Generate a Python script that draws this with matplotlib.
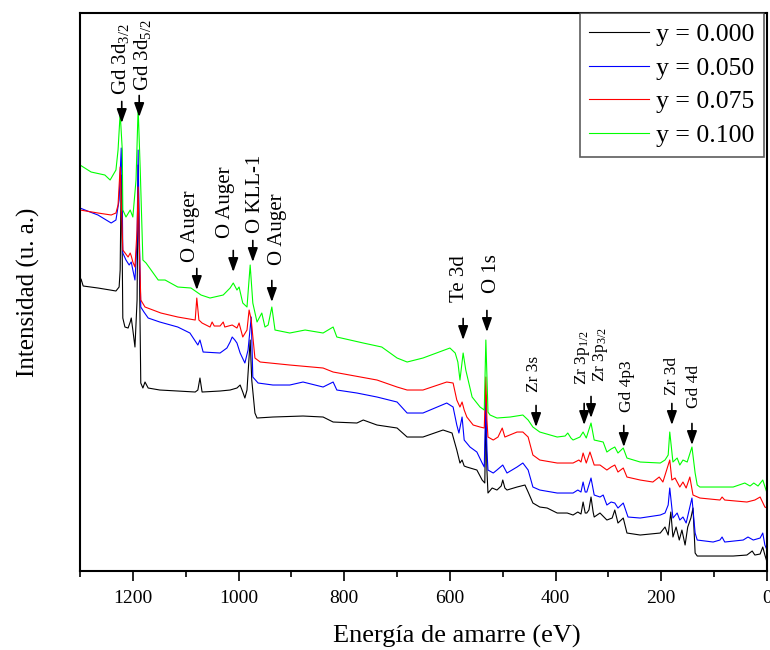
import matplotlib
matplotlib.use('Agg')
import matplotlib.pyplot as plt
from matplotlib.ticker import MultipleLocator

plt.rcParams['font.family'] = ['Liberation Serif', 'DejaVu Serif']
plt.rcParams['mathtext.fontset'] = 'custom'
plt.rcParams['mathtext.rm'] = 'Liberation Serif'
plt.rcParams['mathtext.it'] = 'Liberation Serif:italic'

# survey spectra, binding energy (eV) vs intensity (arb. units)
energy_000 = [1300, 1298, 1294, 1266, 1243, 1232, 1226, 1224, 1222, 1220, 1219, 1215, 1209, 1205, 1203, 1200,
              1196, 1192, 1190, 1188, 1185, 1181, 1177, 1171, 1149, 1115, 1082, 1077, 1073, 1069, 1035, 1016,
              1003, 997, 992, 988, 984, 978, 975, 969, 965, 935, 878, 840, 821, 776, 764, 738, 700, 681, 651,
              613, 596, 587, 581, 577, 573, 568, 549, 539, 534, 532, 530, 528, 520, 511, 503, 500, 496, 492,
              473, 458, 452, 443, 430, 416, 397, 378, 367, 358, 352, 348, 344, 341, 337, 333, 329, 327, 316,
              303, 293, 288, 282, 276, 272, 265, 240, 202, 193, 187, 182, 178, 172, 166, 161, 155, 150, 144,
              140, 136, 132, 64, 38, 28, 23, 13, 8, 4, 0]
intensity_000 = [287, 292, 285, 283, 281, 280, 284, 301, 396, 311, 253, 244, 243, 249, 253, 241,
                 224, 271, 406, 321, 188, 183, 189, 183, 181, 180, 179, 181, 193, 179, 180, 181,
                 183, 186, 179, 173, 181, 231, 191, 158, 153, 154, 155, 154, 149, 148, 151, 146, 143, 134, 134,
                 141, 138, 121, 108, 111, 105, 104, 101, 91, 88, 161, 101, 78, 83, 81, 85, 91, 83, 81,
                 84, 86, 79, 68, 64, 63, 58, 58, 56, 59, 57, 69, 58, 58, 61, 74, 59, 54, 58,
                 51, 53, 61, 48, 51, 53, 38, 36, 38, 44, 36, 59, 34, 44, 31, 41, 26, 44, 53,
                 63, 18, 15, 15, 16, 20, 16, 17, 24, 16, 9]

energy_050 = [1300, 1281, 1266, 1241, 1232, 1226, 1222, 1220, 1219, 1213, 1207, 1203, 1200, 1196, 1192, 1190,
              1188, 1185, 1179, 1171, 1149, 1115, 1092, 1077, 1073, 1067, 1035, 1022, 1016, 1012, 1007, 1003,
              997, 988, 982, 976, 973, 963, 935, 903, 878, 840, 821, 814, 776, 738, 700, 681, 651, 606, 594,
              587, 583, 577, 573, 562, 549, 539, 535, 532, 530, 528, 518, 511, 500, 492, 473, 462, 452, 443,
              430, 397, 367, 358, 352, 348, 344, 341, 333, 327, 316, 310, 303, 295, 288, 282, 276, 272, 263,
              240, 202, 193, 187, 184, 178, 170, 165, 159, 153, 146, 142, 136, 132, 102, 89, 85, 80, 45, 36,
              26, 13, 8, 4, 0]
intensity_050 = [363, 359, 356, 348, 351, 371, 423, 371, 318, 311, 306, 309, 301, 291, 331, 421,
                 341, 264, 259, 253, 249, 244, 238, 226, 231, 219, 218, 223, 229, 234, 231, 228,
                 218, 208, 221, 254, 194, 188, 186, 186, 189, 184, 189, 181, 178, 174, 169, 158, 158, 168, 164,
                 146, 138, 154, 131, 124, 119, 108, 104, 176, 121, 101, 98, 101, 106, 98, 104, 108, 101, 84,
                 81, 78, 78, 81, 79, 89, 79, 79, 93, 76, 74, 76, 66, 69, 68, 63, 66, 68, 54,
                 53, 56, 58, 66, 83, 53, 58, 51, 54, 48, 64, 73, 38, 31, 29, 31, 34, 29, 31, 34,
                 31, 33, 38, 26, 21]

energy_075 = [1300, 1266, 1241, 1232, 1228, 1224, 1222, 1219, 1209, 1205, 1203, 1200, 1196, 1192, 1190, 1188,
              1185, 1177, 1147, 1115, 1082, 1079, 1075, 1069, 1054, 1050, 1046, 1035, 1029, 1026, 1012, 1003,
              999, 992, 984, 980, 976, 969, 959, 903, 840, 821, 738, 700, 681, 651, 606, 594, 587, 581, 577,
              573, 568, 556, 543, 535, 532, 530, 528, 518, 509, 501, 496, 473, 462, 452, 443, 430, 397, 367,
              356, 352, 348, 342, 335, 327, 316, 303, 295, 288, 282, 272, 265, 240, 216, 204, 197, 184, 180,
              174, 165, 159, 153, 146, 140, 127, 89, 85, 80, 38, 23, 13, 4, 0]
intensity_075 = [361, 358, 356, 358, 366, 404, 371, 321, 314, 318, 315, 309, 304, 341, 384, 331,
                 271, 264, 258, 254, 251, 273, 251, 248, 244, 249, 245, 245, 249, 244, 246, 243,
                 248, 234, 241, 261, 251, 213, 209, 206, 203, 199, 191, 184, 181, 181, 189, 188, 171, 164, 169,
                 161, 154, 146, 144, 143, 194, 151, 134, 131, 134, 143, 134, 139, 139, 134, 116, 111, 108, 108,
                 111, 109, 118, 108, 119, 106, 106, 101, 104, 106, 99, 103, 94, 91, 89, 94, 89, 111, 91,
                 93, 84, 89, 83, 94, 76, 73, 71, 74, 71, 69, 71, 74, 64, 63]

energy_100 = [1300, 1279, 1253, 1243, 1232, 1228, 1224, 1220, 1219, 1213, 1205, 1200, 1194, 1190, 1186, 1181,
              1175, 1152, 1139, 1115, 1090, 1071, 1054, 1029, 1016, 1010, 1005, 1003, 999, 992, 984, 978,
              973, 965, 956, 950, 944, 937, 931, 903, 874, 840, 821, 814, 764, 729, 700, 681, 651, 600, 590,
              585, 581, 575, 570, 558, 543, 535, 532, 528, 524, 511, 486, 462, 452, 443, 430, 397, 382, 377,
              371, 367, 354, 348, 342, 333, 327, 310, 303, 295, 288, 282, 272, 265, 240, 202, 193, 187, 184,
              178, 170, 165, 159, 151, 142, 136, 132, 127, 64, 42, 32, 25, 17, 8, 0]
intensity_100 = [406, 399, 396, 391, 401, 421, 458, 421, 361, 354, 361, 354, 391, 463, 401, 311,
                 308, 291, 291, 284, 283, 276, 273, 276, 283, 288, 283, 281, 284, 268, 264, 306,
                 268, 249, 258, 244, 246, 264, 241, 238, 241, 238, 244, 234, 228, 224, 213, 209, 213, 223, 218,
                 209, 191, 218, 201, 174, 164, 161, 231, 159, 156, 153, 154, 156, 151, 144, 139, 134, 135, 138,
                 133, 131, 134, 139, 133, 148, 131, 129, 119, 122, 124, 118, 123, 113, 109, 108, 111, 116, 139,
                 109, 113, 106, 111, 109, 124, 98, 86, 84, 84, 88, 85, 88, 85, 91, 78]

series_labels = ['y = 0.000', 'y = 0.050', 'y = 0.075', 'y = 0.100']

# peak assignments: name, arrow energy, arrow tip height
peak_names = [r'Gd 3d$_{\mathrm{3/2}}$', r'Gd 3d$_{\mathrm{5/2}}$', 'O Auger', 'O Auger', 'O KLL-1', 'O Auger',
              'Te 3d', 'O 1s', 'Zr 3s', r'Zr 3p$_{\mathrm{1/2}}$', r'Zr 3p$_{\mathrm{3/2}}$', 'Gd 4p3',
              'Zr 3d', 'Gd 4d']
peak_energies = [1221, 1188, 1079, 1010, 973, 937, 575, 530, 437, 346, 333, 271, 180, 142]
peak_tips = [448, 454, 281, 299, 309, 269, 231, 239, 144, 146, 153, 124, 146, 126]


def main():
    fig = plt.figure(figsize=(7.7, 6.5), dpi=100)
    ax = fig.add_axes([0.1039, 0.1215, 0.8922, 0.8585])

    colors = ['#000000', '#0000ff', '#ff0000', '#00ff00']
    data = [(energy_000, intensity_000), (energy_050, intensity_050),
            (energy_075, intensity_075), (energy_100, intensity_100)]
    for (e, inten), lab, col in zip(data, series_labels, colors):
        ax.plot(e, inten, color=col, linewidth=0.8, label=lab)

    # label placement (text centre energy, text start height, font size)
    text_x = [1224, 1181, 1090, 1024, 967, 927, 581, 522, 441, 350, 316, 265, 180, 138]
    text_y = [476, 480, 309, 333, 338, 306, 269, 278, 179, 186, 189, 159, 176, 163]
    sizes = [15, 15, 15, 15, 15, 15, 15, 15, 12.5, 12.5, 12.5, 12.5, 12.5, 12.5]
    for name, e, tip, tx, ty, fs in zip(peak_names, peak_energies, peak_tips, text_x, text_y, sizes):
        ax.annotate('', xy=(e, tip), xytext=(0, 15.5), textcoords='offset points',
                    arrowprops=dict(arrowstyle='-|>,head_length=0.7,head_width=0.25',
                                    color='black', lw=1.2, shrinkA=0, shrinkB=0, mutation_scale=12))
        ax.text(tx, ty, name, rotation=90, ha='center', va='bottom', fontsize=fs)

    ax.set_xlim(1300, 0)
    ax.set_ylim(0, 558)
    ax.set_yticks([])
    ax.xaxis.set_major_locator(MultipleLocator(200))
    ax.xaxis.set_minor_locator(MultipleLocator(100))
    ax.tick_params(axis='x', which='major', direction='out', length=7, width=1.2, labelsize=14, pad=7)
    ax.tick_params(axis='x', which='minor', direction='out', length=4, width=1.2)
    for sp in ax.spines.values():
        sp.set_linewidth(1.5)

    ax.set_xlabel('Energía de amarre (eV)', fontsize=19)
    ax.xaxis.set_label_coords(0.549, -0.097)
    ax.set_ylabel('Intensidad (u. a.)', fontsize=18)
    ax.yaxis.set_label_coords(-0.058, 0.5)

    leg = ax.legend(loc='upper right', bbox_to_anchor=(0.996, 1.0), borderaxespad=0, fontsize=18.5,
                    frameon=True, fancybox=False, handlelength=2.33, handletextpad=0.27,
                    borderpad=0.38, labelspacing=0.42)
    leg.get_frame().set_edgecolor('#333333')
    leg.get_frame().set_linewidth(1.2)

    fig.savefig('out.png', dpi=100)
    plt.close(fig)


if __name__ == '__main__':
    main()
